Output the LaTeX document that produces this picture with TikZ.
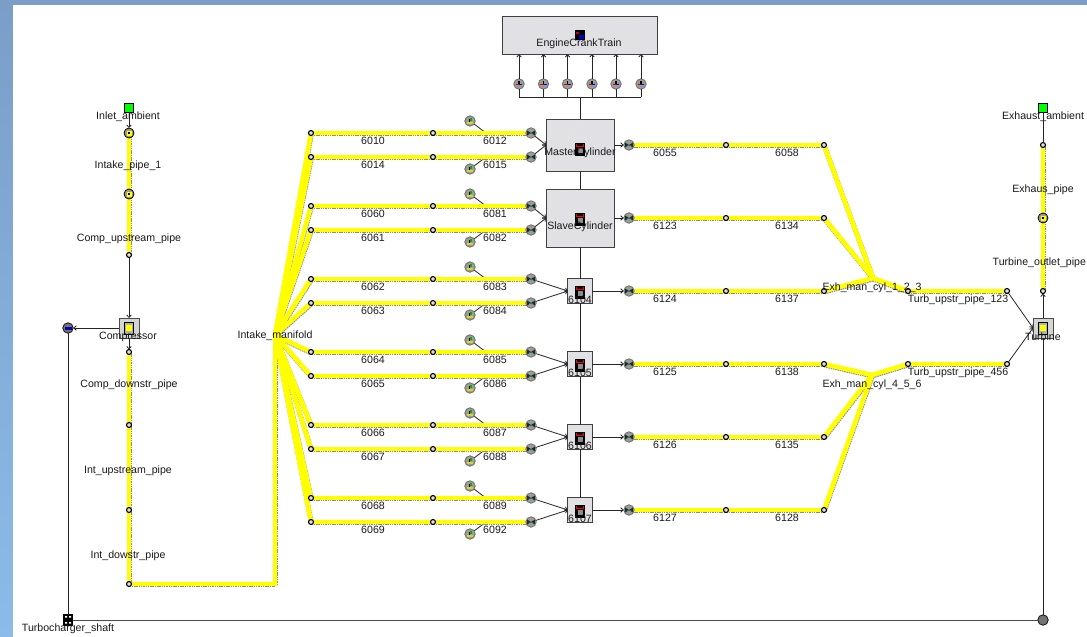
\documentclass[tikz,border=0pt]{standalone}
\usepackage{fontspec}
\setmainfont{Liberation Sans}
\usetikzlibrary{arrows.meta,patterns}
\pgfdeclarelayer{back}
\pgfdeclarelayer{shades}
\pgfdeclarelayer{pipes}
\pgfsetlayers{back,shades,pipes,main}
\definecolor{bgtop}{HTML}{7A9EC8}
\definecolor{bgbot}{HTML}{8CBBE9}
\definecolor{boxfill}{HTML}{E0E0E8}
\definecolor{icongray}{HTML}{9C9C94}
\definecolor{pipey}{HTML}{FFFF00}
\tikzset{
  every node/.style={inner sep=0pt,outer sep=0pt},
  lbl/.style={font=\fontsize{10.6}{12}\selectfont,text=black!90,yshift=-0.8pt},
  cyl/.style={fill=boxfill,postaction={pattern=crosshatch dots,pattern color=yellow!45!black!18},postaction={draw=black!75,line width=0.9pt}},
  bigbox/.style={cyl,minimum width=68pt,minimum height=52pt},
  smallbox/.style={cyl,minimum width=24.5pt,minimum height=24.5pt},
  turbo/.style={draw=black!70,line width=0.8pt,fill=black!17,minimum width=20pt,minimum height=20pt},
  jct/.style={circle,draw=black,line width=1.1pt,fill=black!12,minimum size=5pt},
  portic/.style={circle,draw=black!60,line width=0.7pt,fill=icongray,minimum size=10.5pt},
  valve/.style={circle,draw=black,line width=0.8pt,fill=icongray,minimum size=10pt},
  green/.style={draw=black,line width=1.2pt,fill=green,minimum size=8.5pt},
  icon/.style={fill=black,minimum width=9.5pt,minimum height=13pt},
  thin/.style={draw=black!85,line width=0.8pt},
  arr/.style={thin,-{Straight Barb[length=2.5pt,width=4.5pt]}},
  pipeshade/.style={draw=black!45,line width=4.8pt,dash pattern=on 1.5pt off 0.8pt},
  pipemain/.style={draw=pipey,line width=4.6pt}
}
\newcommand{\pipeseg}[2]{%
  \begin{pgfonlayer}{shades}
    \draw[pipeshade] ([shift={(0.4,1)}]#1.center) -- ([shift={(0.4,1)}]#2.center);
  \end{pgfonlayer}
  \begin{pgfonlayer}{pipes}
    \draw[pipemain,line cap=round] (#1.center) -- (#2.center);
  \end{pgfonlayer}}
\newcommand{\portnode}[3]{%
  \node[portic] (#1) at (#2,#3) {};
  \fill[black!85] (#2-3.8,#3-2.4) -- (#2,#3) -- (#2-3.8,#3+2.4) -- cycle;
  \fill[black!85] (#2+3.8,#3-2.4) -- (#2,#3) -- (#2+3.8,#3+2.4) -- cycle;
  \draw[teal,line width=0.8pt] (#2-1.6,#3) -- (#2+1.6,#3);}
\newcommand{\sensornode}[3]{%
  \node[portic] (#1) at (#2,#3) {};
  \fill[green!70!black] (#2-0.5,#3-3) rectangle (#2+2.2,#3-0.3);
  \fill[black] (#2-0.8,#3-2) rectangle (#2+0.2,#3+1.8);
  \fill[yellow!85!black] (#2-3,#3+0.8) rectangle (#2+3,#3+2.5);}
\newcommand{\cranknode}[3]{%
  \node[portic] (#1) at (#2,#3) {};
  \draw[red!85!black,line width=1.3pt] (#2-3.2,#3+0.5) -- (#2,#3+0.5);
  \draw[blue,line width=1.3pt] (#2,#3+0.5) -- (#2+3.2,#3+0.5);
  \fill[black] (#2-0.8,#3-3.2) rectangle (#2+0.8,#3);}
\newcommand{\valvenode}[3]{%
  \node[valve] (#1) at (#2,#3) {};
  \fill[pipey] (#2-2.5,#3-2.5) rectangle (#2+2.8,#3+2.5);
  \fill[black] (#2-1.2,#3-1.2) rectangle (#2+0.6,#3+1.2);}
\newcommand{\cylicon}[3]{%
  \node[icon] (#1) at (#2,#3) {};
  \draw[red,line width=1.1pt] (#2-3.2,#3-5) -- (#2-3.2,#3-2.5) -- (#2+3.2,#3-2.5) -- (#2+3.2,#3-5);
  \fill[black!45] (#2-2.5,#3-1) rectangle (#2+2.5,#3+4);}
\newcommand{\turboicon}[3]{%
  \node[draw=black,line width=1pt,fill=black!30,minimum width=9pt,minimum height=12pt] (#1) at (#2,#3) {};
  \fill[pipey] (#2-3.2,#3-3) rectangle (#2+2.5,#3+3);}
\begin{document}
\begin{tikzpicture}[x=1pt,y=-1pt]
\useasboundingbox (0,0) rectangle (1087,637);
\begin{pgfonlayer}{back}
  \path[top color=bgtop,bottom color=bgbot] (0,0) rectangle (1087,637);
  \fill[white] (13,5) rectangle (1087,637);
\end{pgfonlayer}

% engine and cylinders
\node[cyl,minimum width=155pt,minimum height=38pt] (engine) at (579.5,35) {};
\node[bigbox] (mc) at (580,145) {};
\node[bigbox,minimum height=58pt] (sc) at (580,218) {};
\node[smallbox] (c4) at (580,291) {};
\node[smallbox] (c5) at (580,364) {};
\node[smallbox] (c6) at (580,437) {};
\node[smallbox] (c7) at (580,510) {};
\node[fill=black,minimum width=10pt,minimum height=10pt] (engicon) at (580,35) {};
\fill[blue!80!black] (579,35) rectangle (584,39);
\fill[red!80!black] (576,32) rectangle (579,34);
\cylicon{ic1}{580}{149}
\cylicon{ic2}{580}{219}
\cylicon{ic3}{580}{292}
\cylicon{ic4}{580}{365}
\cylicon{ic5}{580}{438}
\cylicon{ic6}{580}{511}

% crank bus
\coordinate (bus) at (580,97);
\foreach \i/\x in {1/519,2/543.5,3/567.5,4/592,5/616,6/641}{
  \cranknode{cr\i}{\x}{84}
  \coordinate (busb\i) at (\x,97);
  \coordinate (engb\i) at (\x,54);
  \draw[arr] (cr\i) -- (engb\i);
  \draw[thin] (cr\i) -- (busb\i);
}
\draw[thin] (busb1) -- (busb6);
\draw[thin] (bus) -- (mc.north);
\draw[thin] (mc.south) -- (sc.north);
\draw[thin] (sc.south) -- (c4.north);
\draw[thin] (c4.south) -- (c5.north);
\draw[thin] (c5.south) -- (c6.north);
\draw[thin] (c6.south) -- (c7.north);

% intake manifold
\coordinate (man) at (275,335);
\coordinate (mancorner) at (275,584);

% intake rows:  row-y / name / label 1 / label 2 / sensor side / target
\foreach \k/\y/\la/\lb/\sy/\t in {
  a/133/6010/6012/121/mc, b/157/6014/6015/169/mc,
  c/206/6060/6081/194/sc, d/230/6061/6082/242/sc,
  e/279/6062/6083/267/c4, f/303/6063/6084/315/c4,
  g/352/6064/6085/340/c5, h/376/6065/6086/388/c5,
  i/425/6066/6087/413/c6, j/449/6067/6088/461/c6,
  k/498/6068/6089/486/c7, l/522/6069/6092/534/c7}{
  \node[jct] (ja\k) at (311,\y) {};
  \node[jct] (jb\k) at (433,\y) {};
  \portnode{pa\k}{531}{\y}
  \sensornode{sn\k}{470}{\sy}
  \coordinate (tap\k) at (486,\y);
  \pipeseg{man}{ja\k}
  \pipeseg{ja\k}{jb\k}
  \pipeseg{jb\k}{pa\k}
  \begin{pgfonlayer}{back}
    \draw[thin] (sn\k) -- (tap\k);
  \end{pgfonlayer}
  \draw[arr] (pa\k) -- (\t.west);
  \node[lbl] (la\k) at (373,\y+7) {\la};
  \node[lbl] (lb\k) at (495,\y+7) {\lb};
}

% exhaust rows
\node[jct] (jxa) at (908,291) {};
\node[jct] (jxb) at (908,364) {};
\coordinate (ex1) at (873,278);
\coordinate (ex2) at (872,375);
\foreach \k/\y/\la/\lb/\s/\x in {
  a/145/6055/6058/mc/ex1, b/218/6123/6134/sc/ex1, c/291/6124/6137/c4/ex1,
  d/364/6125/6138/c5/ex2, e/437/6126/6135/c6/ex2, f/510/6127/6128/c7/ex2}{
  \portnode{pe\k}{629}{\y}
  \node[jct] (je\k) at (726,\y) {};
  \node[jct] (jf\k) at (824,\y) {};
  \pipeseg{pe\k}{je\k}
  \pipeseg{je\k}{jf\k}
  \pipeseg{jf\k}{\x}
  \draw[arr] (\s.east) -- (pe\k);
  \node[lbl] (le\k) at (665,\y+7) {\la};
  \node[lbl] (lf\k) at (787,\y+7) {\lb};
}

% turbine
\node[turbo] (turb) at (1043,328) {};
\turboicon{turbi}{1043}{328}
\node[jct] (jta) at (1007,291) {};
\node[jct] (jtb) at (1007,364) {};
\pipeseg{ex1}{jxa}
\pipeseg{ex2}{jxb}
\pipeseg{jxa}{jta}
\pipeseg{jxb}{jtb}
\draw[arr] (jta) -- (turb.west);
\draw[arr] (jtb) -- (turb.west);

% exhaust column
\node[green] (exg) at (1043,108) {};
\node[jct] (jx1) at (1043,145) {};
\valvenode{vx}{1043}{218}
\node[jct] (jx2) at (1043,291) {};
\pipeseg{jx1}{vx}
\pipeseg{vx}{jx2}
\draw[thin] (exg) -- (jx1);
\draw[arr] (turb.north) -- (jx2);

% intake column
\node[green] (ing) at (129,108) {};
\valvenode{vi1}{129}{133}
\valvenode{vi2}{129}{194}
\node[jct] (ji1) at (129,255) {};
\node[turbo] (comp) at (129,328) {};
\turboicon{compi}{129}{328}
\node[jct] (ji2) at (129,352) {};
\node[jct] (ji3) at (129,425) {};
\node[jct] (ji4) at (129,510) {};
\node[jct] (ji5) at (129,584) {};
\draw[arr] (ing) -- (vi1);
\pipeseg{vi1}{vi2}
\pipeseg{vi2}{ji1}
\draw[arr] (ji1) -- (comp.north);
\draw[arr] (comp.south) -- (ji2);
\pipeseg{ji2}{ji3}
\pipeseg{ji3}{ji4}
\pipeseg{ji4}{ji5}
\pipeseg{ji5}{mancorner}
\pipeseg{mancorner}{man}

% turbocharger shaft
\node[portic,fill=black!55,draw=black] (shc) at (68,328) {};
\fill[blue!70!black] (64.5,327) rectangle (71.5,329.5);
\node[fill=black,minimum width=9.5pt,minimum height=12pt] (shaft) at (68,620) {};
\fill[white] (65,616) rectangle (67,617.5) (69,616) rectangle (71,617.5) (65,622) rectangle (67,623.5) (69,622) rectangle (71,623.5);
\node[portic,fill=black!55,draw=black] (shr) at (1043,620) {};
\draw[arr] (comp.west) -- (shc);
\draw[thin] (shc) -- (shaft);
\draw[draw=black!70,line width=0.9pt] (shaft) -- (shr);
\draw[thin] (turb.south) -- (shr);

% labels
\node[lbl] (t1) at (579,43) {EngineCrankTrain};
\node[lbl] (t2) at (580,152) {MasterCylinder};
\node[lbl] (t3) at (580,226) {SlaveCylinder};
\node[lbl] (t4) at (580,299) {6104};
\node[lbl] (t5) at (580,372) {6105};
\node[lbl] (t6) at (580,445) {6106};
\node[lbl] (t7) at (580,518) {6107};
\node[lbl] (t8) at (128,116) {Inlet\_ambient};
\node[lbl] (t9) at (128,165) {Intake\_pipe\_1};
\node[lbl] (t10) at (129,238) {Comp\_upstream\_pipe};
\node[lbl] (t11) at (128,336) {Compressor};
\node[lbl] (t12) at (129,384) {Comp\_downstr\_pipe};
\node[lbl] (t13) at (128,470) {Int\_upstream\_pipe};
\node[lbl] (t14) at (128,555) {Int\_dowstr\_pipe};
\node[lbl] (t15) at (68,628) {Turbocharger\_shaft};
\node[lbl] (t16) at (275,335) {Intake\_manifold};
\node[lbl] (t17) at (872,287) {Exh\_man\_cyl\_1\_2\_3};
\node[lbl] (t18) at (958,299) {Turb\_upstr\_pipe\_123};
\node[lbl] (t19) at (872,384) {Exh\_man\_cyl\_4\_5\_6};
\node[lbl] (t20) at (958,372) {Turb\_upstr\_pipe\_456};
\node[lbl] (t21) at (1043,116) {Exhaust\_ambient};
\node[lbl] (t22) at (1043,189) {Exhaus\_pipe};
\node[lbl,anchor=east] (t23) at (1086,262) {Turbine\_outlet\_pipe};
\node[lbl] (t24) at (1043,336) {Turbine};
\end{tikzpicture}
\end{document}
